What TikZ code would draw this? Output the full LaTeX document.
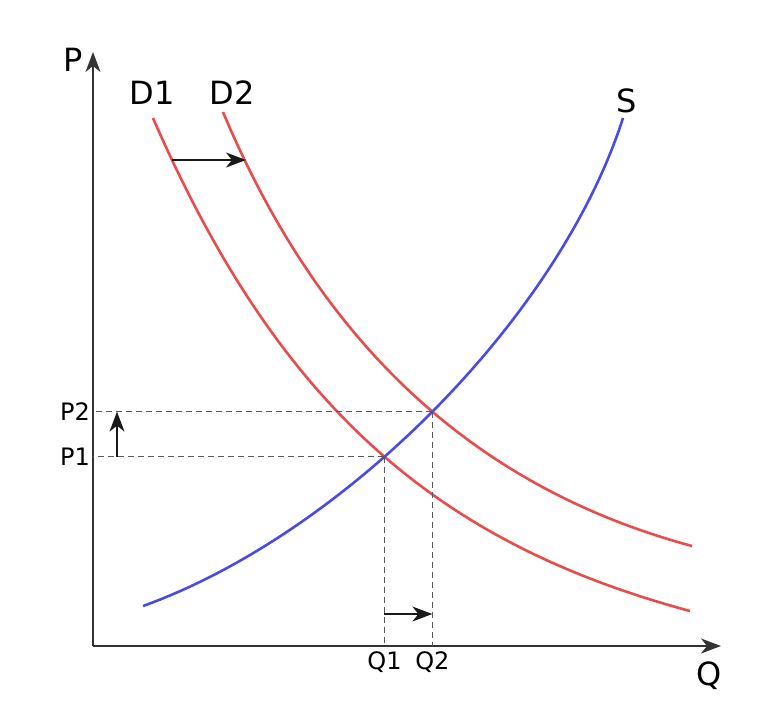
\documentclass[tikz,border=0pt]{standalone}
\usepackage{fontspec}
\setmainfont{DejaVu Sans}
\usetikzlibrary{arrows.meta,intersections}
\definecolor{dred}{HTML}{E84C4C}
\definecolor{sblue}{HTML}{4A4AE6}
\begin{document}
\begin{tikzpicture}[x=1pt,y=-1pt,
  curve/.style={line width=2.6pt},
  axisline/.style={line width=1.6pt, draw=black!80, -{Stealth[length=20pt,width=15pt,inset=6pt]}},
  shiftarrow/.style={line width=1.4pt, draw=black!90, -{Stealth[length=20pt,width=15pt,inset=6pt]}},
  guide/.style={dash pattern=on 6pt off 4pt, line width=1.1pt, draw=black!65},
  biglabel/.style={font=\fontsize{32}{34}\selectfont, inner sep=0pt},
  smalllabel/.style={font=\fontsize{24}{26}\selectfont, inner sep=0pt}]
\useasboundingbox (0,0) rectangle (774,713);

% axes
\coordinate (O) at (93,646);
\coordinate (Ptop) at (93,52);
\coordinate (Qend) at (721,646);
\draw[axisline] (O) -- (Ptop);
\draw[axisline] (O) -- (Qend);

% curves
\draw[curve, dred, name path=D1] (153,118) .. controls (280,410) and (440,543.5) .. (690,611);
\draw[curve, dred, name path=D2] (223,112) .. controls (328,362) and (492,492) .. (692,546);
\draw[curve, sblue, name path=S] (143,606) .. controls (343,534) and (559,318) .. (623,118);

\path[name intersections={of=S and D1, by=E1}];
\path[name intersections={of=S and D2, by=E2}];

% guides
\draw[guide] (E1) -- (E1 -| O);
\draw[guide] (E2) -- (E2 -| O);
\draw[guide] (E1) -- (E1 |- O);
\draw[guide] (E2) -- (E2 |- O);

% shift arrows
\coordinate (da) at (172,160);
\coordinate (db) at (246,160);
\draw[shiftarrow] (da) -- (db);
\coordinate (qa) at (0,614);
\draw[shiftarrow] (E1 |- qa) -- (E2 |- qa);
\coordinate (pa) at (117,0);
\draw[shiftarrow] (pa |- E1) -- (pa |- E2);

% labels
\node[biglabel] (lP) at (73,60) {P};
\node[biglabel] (lD1) at (152,93) {D1};
\node[biglabel] (lD2) at (232,93) {D2};
\node[biglabel] (lS) at (627,101) {S};
\node[biglabel] (lQ) at (709,676) {Q};
\coordinate (lx) at (90,0);
\node[smalllabel, anchor=east] (lP2) at (lx |- E2) {P2};
\node[smalllabel, anchor=east] (lP1) at (lx |- E1) {P1};
\coordinate (ly) at (0,662);
\node[smalllabel] (lQ1) at (E1 |- ly) {Q1};
\node[smalllabel] (lQ2) at (E2 |- ly) {Q2};
\end{tikzpicture}
\end{document}
